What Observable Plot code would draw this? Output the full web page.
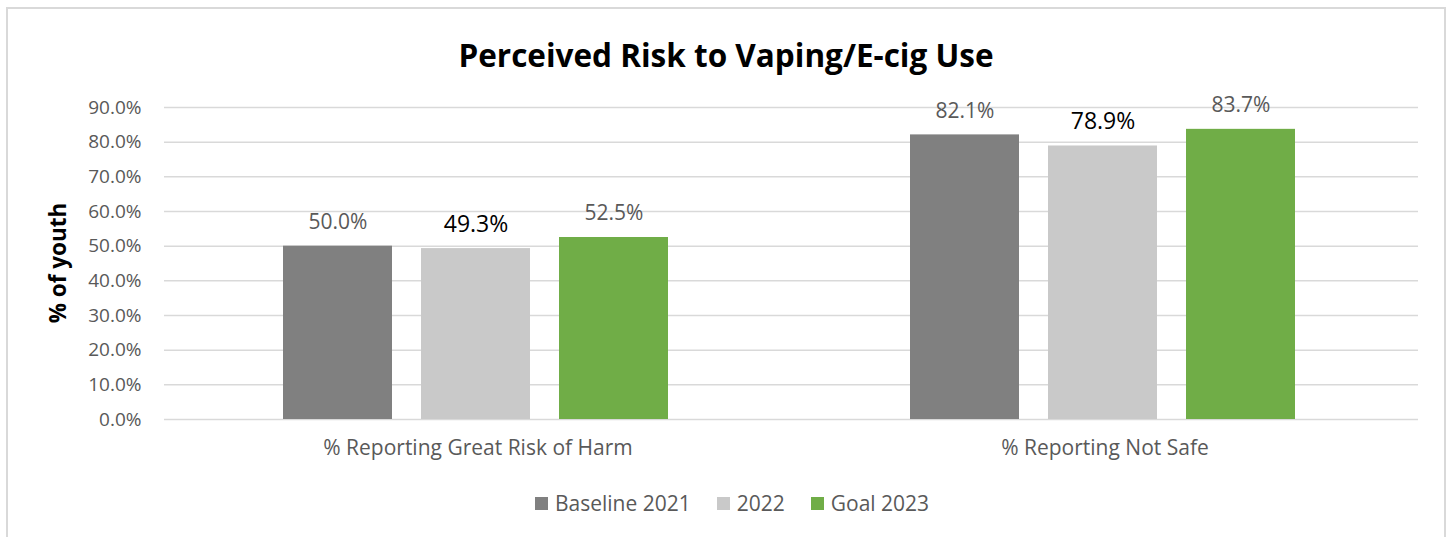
<!DOCTYPE html>
<html>
<head>
<meta charset="utf-8">
<script src="https://cdn.jsdelivr.net/npm/d3@7"></script>
<script src="https://cdn.jsdelivr.net/npm/@observablehq/plot@0.6"></script>
<style>
  html, body { margin: 0; padding: 0; background: #fff; }
  body { width: 1450px; height: 537px; position: relative; overflow: hidden; font-family: "Open Sans", sans-serif; }
  #frame { position: absolute; left: 6px; top: 7px; width: 1440px; height: 560px; border: 2px solid #d9d9d9; box-sizing: border-box; }
  #title { position: absolute; left: 6px; width: 1440px; top: 35px; text-align: center; font-size: 31.5px; font-weight: 700; color: #000; line-height: 40px; }
  #ylabel { position: absolute; left: 57px; top: 263px; transform: translate(-50%, -50%) rotate(-90deg); font-size: 22.5px; font-weight: 700; color: #000; white-space: nowrap; }
  #chart { position: absolute; left: 0; top: 80px; }
  #legend { position: absolute; left: 0; width: 1450px; top: 488px; display: flex; justify-content: center; gap: 26px; font-size: 21px; color: #595959; line-height: 30px; padding-left: 14px; box-sizing: border-box; }
  .item { display: flex; align-items: center; gap: 7px; }
  .swatch { width: 13px; height: 13px; display: inline-block; }
</style>
</head>
<body>
<div id="frame"></div>
<div id="title">Perceived Risk to Vaping/E-cig Use</div>
<div id="ylabel">% of youth</div>
<div id="chart"></div>
<div id="legend"></div>
<script>
// Survey measures shown along the x axis
const categories = ["% Reporting Great Risk of Harm", "% Reporting Not Safe"];
// Series (years) and their percentages, one value per category
const series = ["Baseline 2021", "2022", "Goal 2023"];
const baseline2021 = [50.0, 82.1];
const year2022 = [49.3, 78.9];
const goal2023 = [52.5, 83.7];
const colors = ["#808080", "#c9c9c9", "#70ad47"];
const yTicks = [0, 10, 20, 30, 40, 50, 60, 70, 80, 90];

const valuesBySeries = [baseline2021, year2022, goal2023];
const rows = [];
categories.forEach((c, i) => {
  series.forEach((s, j) => rows.push({category: c, series: s, value: valuesBySeries[j][i]}));
});
const fmt = v => v.toFixed(1) + "%";

const plot = Plot.plot({
  width: 1450,
  height: 400,
  marginLeft: 163,
  marginRight: 32,
  marginTop: 27,
  marginBottom: 61,
  style: {fontFamily: "Open Sans, sans-serif", fontSize: "19px", color: "#595959", background: "transparent"},
  fx: {domain: categories, padding: 0, label: null, tickSize: 0, tickPadding: 21},
  x: {domain: series, paddingInner: 0.209, paddingOuter: 0.8615, align: 0.493, axis: null},
  y: {domain: [0, 90], ticks: yTicks, tickFormat: fmt, label: null, tickSize: 0, tickPadding: 23},
  color: {domain: series, range: colors},
  marks: [
    Plot.ruleY(yTicks, {stroke: "#d9d9d9", strokeWidth: 1.5}),
    Plot.barY(rows, {fx: "category", x: "series", y: "value", fill: "series"}),
    Plot.text(rows.filter(d => d.series !== "2022"), {
      fx: "category", x: "series", y: "value", text: d => fmt(d.value),
      dy: -24, fill: "#595959", fontSize: 21
    }),
    Plot.text(rows.filter(d => d.series === "2022"), {
      fx: "category", x: "series", y: "value", text: d => fmt(d.value),
      dy: -24, fill: "#000000", fontSize: 23
    })
  ]
});
document.getElementById("chart").appendChild(plot);
// category labels along the bottom are drawn a little larger than the y ticks
plot.querySelectorAll("g[aria-label='fx-axis tick label'] text").forEach(t => t.setAttribute("font-size", "21"));

const legend = document.getElementById("legend");
series.forEach((s, i) => {
  const item = document.createElement("div");
  item.className = "item";
  const sw = document.createElement("span");
  sw.className = "swatch";
  sw.style.background = colors[i];
  const label = document.createElement("span");
  label.textContent = s;
  item.appendChild(sw);
  item.appendChild(label);
  legend.appendChild(item);
});
</script>
</body>
</html>
